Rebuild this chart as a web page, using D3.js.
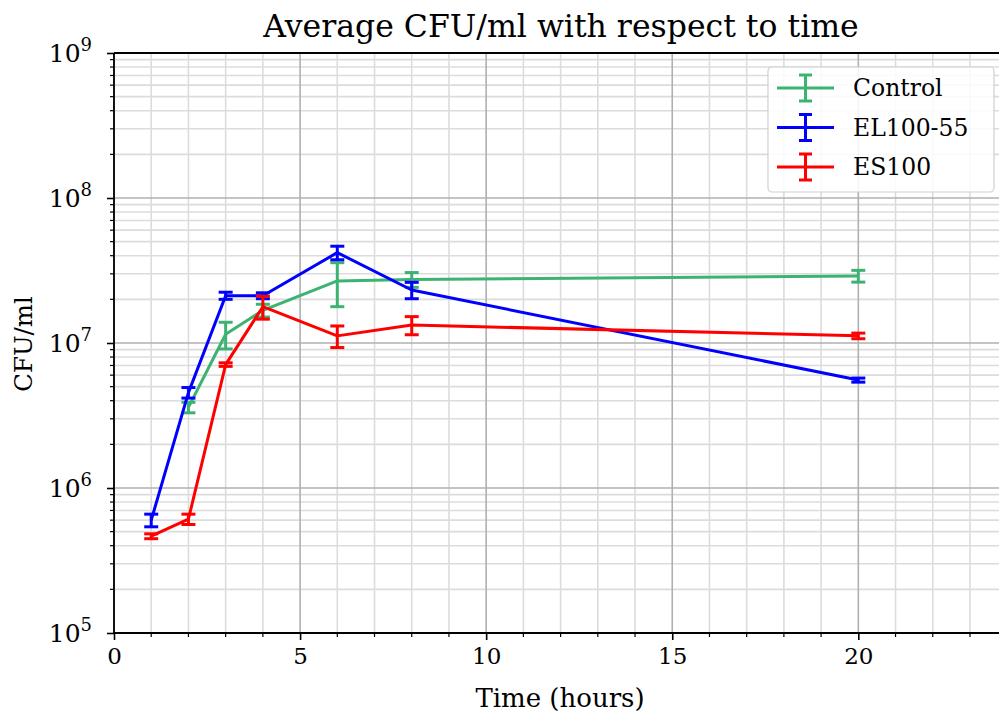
<!DOCTYPE html>
<html>
<head>
<meta charset="utf-8">
<script src="https://cdn.jsdelivr.net/npm/d3@7"></script>
<style>
  body { margin: 0; background: #fff; }
  text { font-family: "DejaVu Serif", serif; fill: #000; }
</style>
</head>
<body>
<div id="chart"></div>
<script>
// data
const times = [1, 2, 3, 4, 6, 8, 20];
const seriesNames = ['Control', 'EL100-55', 'ES100'];
const seriesColors = ['#3cb371', '#0000ff', '#ff0000'];

// Control has no point at t=1
const controlTimes = [2, 3, 4, 6, 8, 20];
const controlMean = [3.6e6, 1.15e7, 1.68e7, 2.68e7, 2.74e7, 2.9e7];
const controlErr = [0.3e6, 0.24e7, 0.17e7, 0.9e7, 0.32e7, 0.27e7];

const el100Mean = [6.0e5, 4.55e6, 2.12e7, 2.12e7, 4.2e7, 2.32e7, 5.55e6];
const el100Err = [0.6e5, 0.38e6, 0.12e7, 0.1e7, 0.45e7, 0.3e7, 0.18e6];

const es100Mean = [4.65e5, 6.1e5, 7.1e6, 1.78e7, 1.12e7, 1.33e7, 1.12e7];
const es100Err = [0.18e5, 0.5e5, 0.2e6, 0.32e7, 0.19e7, 0.19e7, 0.05e7];

const xTicks = [0, 5, 10, 15, 20];
const yTicks = [5, 6, 7, 8, 9];

/**
 * Draw the error bar chart
 */
function createChart() {
  const W = 999;
  const H = 713;
  const left = 114, right = 999, top = 53, bottom = 633;

  const svg = d3.select('#chart').append('svg')
    .attr('width', W)
    .attr('height', H);

  const x = d3.scaleLinear().domain([0, 23.78]).range([left, right]);
  const y = d3.scaleLog().domain([1e5, 1e9]).range([bottom, top]);

  // grid
  const minorX = d3.range(0, 24).filter(v => v % 5 !== 0);
  const minorY = [];
  for (let e = 5; e < 9; e++)
    for (let m = 2; m <= 9; m++) minorY.push(m * Math.pow(10, e));

  const grid = svg.append('g');
  grid.selectAll('.mx').data(minorX).enter().append('line')
    .attr('x1', d => x(d)).attr('x2', d => x(d))
    .attr('y1', top).attr('y2', bottom)
    .attr('stroke', '#dcdcdc').attr('stroke-width', 1.6);
  grid.selectAll('.my').data(minorY).enter().append('line')
    .attr('x1', left).attr('x2', right)
    .attr('y1', d => y(d)).attr('y2', d => y(d))
    .attr('stroke', '#dcdcdc').attr('stroke-width', 1.6);
  grid.selectAll('.Mx').data(xTicks).enter().append('line')
    .attr('x1', d => x(d)).attr('x2', d => x(d))
    .attr('y1', top).attr('y2', bottom)
    .attr('stroke', '#b0b0b0').attr('stroke-width', 1.6);
  grid.selectAll('.My').data(yTicks).enter().append('line')
    .attr('x1', left).attr('x2', right)
    .attr('y1', d => y(Math.pow(10, d))).attr('y2', d => y(Math.pow(10, d)))
    .attr('stroke', '#b0b0b0').attr('stroke-width', 1.6);

  // series
  const series = [
    {times: controlTimes, mean: controlMean, err: controlErr},
    {times: times, mean: el100Mean, err: el100Err},
    {times: times, mean: es100Mean, err: es100Err}
  ];

  const line = d3.line()
    .x(d => x(d.t))
    .y(d => y(d.v));

  series.forEach((s, i) => {
    const pts = s.times.map((t, j) => ({t: t, v: s.mean[j], e: s.err[j]}));
    const g = svg.append('g');
    g.append('path')
      .datum(pts)
      .attr('fill', 'none')
      .attr('stroke', seriesColors[i])
      .attr('stroke-width', 3)
      .attr('stroke-linejoin', 'round')
      .attr('d', line);
    const eb = g.selectAll('.eb').data(pts).enter().append('g')
      .attr('stroke', seriesColors[i])
      .attr('stroke-width', 3);
    eb.append('line')
      .attr('x1', d => x(d.t)).attr('x2', d => x(d.t))
      .attr('y1', d => y(d.v - d.e)).attr('y2', d => y(d.v + d.e));
    eb.append('line')
      .attr('x1', d => x(d.t) - 7).attr('x2', d => x(d.t) + 7)
      .attr('y1', d => y(d.v - d.e)).attr('y2', d => y(d.v - d.e));
    eb.append('line')
      .attr('x1', d => x(d.t) - 7).attr('x2', d => x(d.t) + 7)
      .attr('y1', d => y(d.v + d.e)).attr('y2', d => y(d.v + d.e));
  });

  // axes
  const xAxis = d3.axisBottom(x)
    .tickValues(xTicks)
    .tickSize(7)
    .tickPadding(8)
    .tickFormat(d3.format('d'));
  const gx = svg.append('g')
    .attr('transform', 'translate(0,' + bottom + ')')
    .call(xAxis);
  gx.select('.domain').remove();
  gx.selectAll('.tick line').attr('stroke', '#000').attr('stroke-width', 1.6);
  gx.selectAll('.tick text')
    .style('font-family', '"DejaVu Serif", serif')
    .style('font-size', '23px');
  gx.selectAll('.minor').data(minorX).enter().append('line')
    .attr('x1', d => x(d)).attr('x2', d => x(d))
    .attr('y1', 0).attr('y2', 4)
    .attr('stroke', '#000').attr('stroke-width', 1.2);

  const yAxis = d3.axisLeft(y)
    .tickValues(yTicks.map(e => Math.pow(10, e)))
    .tickSize(7)
    .tickPadding(6)
    .tickFormat('');
  const gy = svg.append('g')
    .attr('transform', 'translate(' + left + ',0)')
    .call(yAxis);
  gy.select('.domain').remove();
  gy.selectAll('.tick line').attr('stroke', '#000').attr('stroke-width', 1.6);
  gy.selectAll('.minor').data(minorY).enter().append('line')
    .attr('x1', 0).attr('x2', -4)
    .attr('y1', d => y(d)).attr('y2', d => y(d))
    .attr('stroke', '#000').attr('stroke-width', 1.2);
  gy.selectAll('.lbl').data(yTicks).enter().append('text')
    .attr('x', -22)
    .attr('y', d => y(Math.pow(10, d)) + 9)
    .attr('text-anchor', 'end')
    .style('font-size', '25px')
    .each(function(d) {
      const t = d3.select(this);
      t.append('tspan').text('10');
      t.append('tspan').attr('dy', -11).style('font-size', '18px').text(d);
    });

  // spines
  svg.append('line')
    .attr('x1', left).attr('x2', left).attr('y1', top).attr('y2', bottom)
    .attr('stroke', '#000').attr('stroke-width', 1.8);
  svg.append('line')
    .attr('x1', left).attr('x2', right).attr('y1', bottom).attr('y2', bottom)
    .attr('stroke', '#000').attr('stroke-width', 1.8);
  svg.append('line')
    .attr('x1', left).attr('x2', right).attr('y1', top).attr('y2', top)
    .attr('stroke', '#000').attr('stroke-width', 1.8);

  // labels
  svg.append('text')
    .attr('x', 561).attr('y', 37)
    .attr('text-anchor', 'middle')
    .style('font-size', '31.5px')
    .text('Average CFU/ml with respect to time');
  svg.append('text')
    .attr('x', 560).attr('y', 707)
    .attr('text-anchor', 'middle')
    .style('font-size', '26px')
    .text('Time (hours)');
  svg.append('text')
    .attr('transform', 'translate(32,' + 344 + ') rotate(-90)')
    .attr('text-anchor', 'middle')
    .style('font-size', '24.5px')
    .text('CFU/ml');

  // legend
  const leg = svg.append('g').attr('transform', 'translate(768,67)');
  leg.append('rect')
    .attr('width', 226).attr('height', 125)
    .attr('rx', 4)
    .attr('fill', 'rgba(255,255,255,0.85)')
    .attr('stroke', '#d0d0d0')
    .attr('stroke-width', 1.2);
  seriesNames.forEach((name, i) => {
    const row = leg.append('g')
      .attr('transform', 'translate(0,' + (21 + i * 39.5) + ')')
      .attr('stroke', seriesColors[i])
      .attr('stroke-width', 3);
    row.append('line').attr('x1', 9).attr('x2', 66).attr('y1', 0).attr('y2', 0);
    row.append('line').attr('x1', 37.5).attr('x2', 37.5).attr('y1', -13).attr('y2', 13);
    row.append('line').attr('x1', 31).attr('x2', 44).attr('y1', -13).attr('y2', -13);
    row.append('line').attr('x1', 31).attr('x2', 44).attr('y1', 13).attr('y2', 13);
    leg.append('text')
      .attr('x', 85)
      .attr('y', 21 + i * 39.5 + 8)
      .style('font-size', '23.5px')
      .text(name);
  });
}

/**
 * Entry point
 */
(function main() {
  createChart();
})();
</script>
</body>
</html>
